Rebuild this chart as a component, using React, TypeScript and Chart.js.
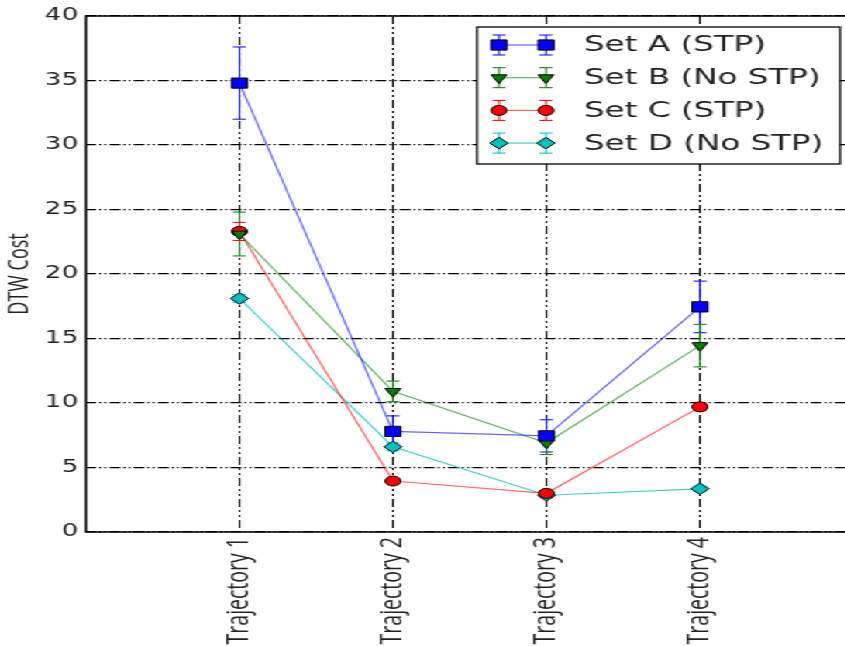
import React, { useEffect, useRef } from 'react';
import { Chart, registerables } from 'chart.js';

Chart.register(...registerables);

const categories = ['Trajectory 1', 'Trajectory 2', 'Trajectory 3', 'Trajectory 4'];
const seriesNames = ['Set A (STP)', 'Set B (No STP)', 'Set C (STP)', 'Set D (No STP)'];
const setA = [34.8, 7.8, 7.45, 17.45];
const setAErr = [2.8, 1.2, 1.25, 2.0];
const setB = [23.1, 10.9, 6.9, 14.45];
const setBErr = [1.7, 0.8, 0.9, 1.65];
const setC = [23.3, 3.95, 3.0, 9.7];
const setCErr = [0.7, 0.2, 0.2, 0.3];
const setD = [18.1, 6.6, 2.85, 3.35];
const setDErr = [0.3, 0.3, 0.2, 0.2];
const yTicks = [0, 5, 10, 15, 20, 25, 30, 35, 40];
const xMin = 0;
const xMax = 5;

const S = 1.55; // horizontal stretch of the reference picture
const W = 560;
const H = 646;

const colors = ['#0000ff', '#008000', '#ff0000', '#00bfbf'];
const lineColors = ['rgba(0,0,255,0.6)', 'rgba(0,128,0,0.6)', 'rgba(255,0,0,0.6)', 'rgba(0,191,191,0.75)'];
const markers = [
  { style: 'rect', radius: 7.2, rotation: 0 },
  { style: 'triangle', radius: 5.8, rotation: 180 },
  { style: 'circle', radius: 5, rotation: 0 },
  { style: 'rectRot', radius: 5.8, rotation: 0 },
];
const values = [setA, setB, setC, setD];
const errors = [setAErr, setBErr, setCErr, setDErr];

function drawMarker(ctx: CanvasRenderingContext2D, i: number, x: number, y: number) {
  const m = markers[i];
  const r = m.radius;
  ctx.save();
  ctx.fillStyle = colors[i];
  ctx.strokeStyle = '#000';
  ctx.lineWidth = 1;
  ctx.beginPath();
  if (m.style === 'rect') {
    const s = Math.SQRT1_2 * r;
    ctx.rect(x - s, y - s, 2 * s, 2 * s);
  } else if (m.style === 'triangle') {
    for (let k = 0; k < 3; k++) {
      const a = Math.PI + (k * 2 * Math.PI) / 3;
      const px = x + Math.sin(a) * r;
      const py = y - Math.cos(a) * r;
      if (k === 0) ctx.moveTo(px, py);
      else ctx.lineTo(px, py);
    }
    ctx.closePath();
  } else if (m.style === 'circle') {
    ctx.arc(x, y, r, 0, Math.PI * 2);
  } else {
    ctx.moveTo(x, y - r);
    ctx.lineTo(x + r, y);
    ctx.lineTo(x, y + r);
    ctx.lineTo(x - r, y);
    ctx.closePath();
  }
  ctx.fill();
  ctx.stroke();
  ctx.restore();
}

function drawErrorBar(ctx: CanvasRenderingContext2D, color: string, x: number, y1: number, y2: number, cap: number) {
  ctx.save();
  ctx.strokeStyle = color;
  ctx.lineWidth = 1;
  ctx.beginPath();
  ctx.moveTo(x, y1);
  ctx.lineTo(x, y2);
  ctx.moveTo(x - cap, y1);
  ctx.lineTo(x + cap, y1);
  ctx.moveTo(x - cap, y2);
  ctx.lineTo(x + cap, y2);
  ctx.stroke();
  ctx.restore();
}

const framePlugin = {
  id: 'frame',
  beforeDatasetsDraw(chart: any) {
    const { ctx, chartArea: a } = chart;
    ctx.save();
    ctx.strokeStyle = '#000';
    ctx.lineWidth = 1.5;
    ctx.strokeRect(a.left, a.top, a.right - a.left, a.bottom - a.top);
    ctx.restore();
  },
};

const errorBarPlugin = {
  id: 'errorBars',
  beforeDatasetsDraw(chart: any) {
    const { ctx } = chart;
    const yScale = chart.scales.y;
    chart.data.datasets.forEach((ds: any, i: number) => {
      const meta = chart.getDatasetMeta(i);
      meta.data.forEach((pt: any, j: number) => {
        const v = values[i][j];
        const e = errors[i][j];
        drawErrorBar(ctx, colors[i], pt.x, yScale.getPixelForValue(v + e), yScale.getPixelForValue(v - e), 4.2);
      });
    });
  },
};

const legendPlugin = {
  id: 'mplLegend',
  afterDraw(chart: any) {
    const { ctx } = chart;
    const left = 477 / S;
    const right = 840 / S;
    const top = 27;
    const bottom = 164;
    ctx.save();
    ctx.fillStyle = '#fff';
    ctx.fillRect(left, top, right - left, bottom - top);
    ctx.strokeStyle = '#000';
    ctx.lineWidth = 1.3;
    ctx.strokeRect(left, top, right - left, bottom - top);
    const x1 = 499 / S;
    const x2 = 546 / S;
    seriesNames.forEach((name, i) => {
      const y = 45 + i * 32.7;
      ctx.strokeStyle = lineColors[i];
      ctx.lineWidth = 1.2;
      ctx.beginPath();
      ctx.moveTo(x1, y);
      ctx.lineTo(x2, y);
      ctx.stroke();
      drawErrorBar(ctx, colors[i], x1, y - 10, y + 10, 4.2);
      drawErrorBar(ctx, colors[i], x2, y - 10, y + 10, 4.2);
      drawMarker(ctx, i, x1, y);
      drawMarker(ctx, i, x2, y);
      ctx.fillStyle = '#222';
      ctx.font = '21px "DejaVu Sans"';
      ctx.textAlign = 'left';
      ctx.textBaseline = 'middle';
      ctx.fillText(name, 584 / S, y + 1);
    });
    ctx.restore();
  },
};

const yTitlePlugin = {
  id: 'yTitle',
  afterDraw(chart: any) {
    const { ctx, chartArea: a } = chart;
    ctx.save();
    ctx.translate(20 / S, (a.top + a.bottom) / 2);
    ctx.rotate(-Math.PI / 2);
    ctx.fillStyle = '#222';
    ctx.font = '18px "Open Sans"';
    ctx.textAlign = 'center';
    ctx.textBaseline = 'middle';
    ctx.fillText('DTW Cost', 0, 0);
    ctx.restore();
  },
};

export default function App() {
  const ref = useRef<HTMLCanvasElement | null>(null);
  useEffect(() => {
    if (!ref.current) return;
    const chart = new Chart(ref.current, {
      type: 'line',
      data: {
        datasets: seriesNames.map((name, i) => ({
          label: name,
          data: values[i].map((v, j) => ({ x: j + 1, y: v })),
          borderColor: lineColors[i],
          borderWidth: 1.2,
          backgroundColor: colors[i],
          pointStyle: markers[i].style as any,
          pointRadius: markers[i].radius,
          pointRotation: markers[i].rotation,
          pointBackgroundColor: colors[i],
          pointBorderColor: '#000',
          pointBorderWidth: 1,
          fill: false,
          tension: 0,
        })),
      },
      options: {
        responsive: false,
        animation: false,
        layout: { padding: { left: 0, top: 16, right: W - 853.5 / S, bottom: 0 } },
        plugins: { legend: { display: false }, tooltip: { enabled: false } },
        scales: {
          x: {
            type: 'linear',
            min: xMin,
            max: xMax,
            afterBuildTicks: (axis: any) => {
              axis.ticks = categories.map((_, i) => ({ value: i + 1 }));
            },
            afterFit: (axis: any) => {
              axis.height = H - 532;
            },
            ticks: {
              autoSkip: false,
              minRotation: 90,
              maxRotation: 90,
              padding: 5,
              color: '#222',
              font: { family: 'Open Sans', size: 19.5 },
              callback: (v: any) => categories[Number(v) - 1] ?? '',
            },
            grid: { color: '#000', lineWidth: 1.1, drawTicks: false },
            border: { display: false, dash: [8, 3, 2, 3, 2, 3] },
          },
          y: {
            type: 'linear',
            min: 0,
            max: 40,
            afterBuildTicks: (axis: any) => {
              axis.ticks = yTicks.map((v) => ({ value: v }));
            },
            afterFit: (axis: any) => {
              axis.width = 86 / S;
            },
            ticks: {
              padding: 5,
              color: '#222',
              font: { family: 'DejaVu Sans', size: 17 },
            },
            grid: { color: '#000', lineWidth: 1.3, drawTicks: false },
            border: { display: false, dash: [7, 2, 1.3, 2, 1.3, 2] },
          },
        },
      },
      plugins: [framePlugin, errorBarPlugin, legendPlugin, yTitlePlugin],
    });
    return () => chart.destroy();
  }, []);
  return (
    <div
      style={{
        position: 'fixed',
        left: 0,
        top: 0,
        width: W,
        height: H,
        transform: `scaleX(${S})`,
        transformOrigin: '0 0',
        background: '#fff',
      }}
    >
      <canvas ref={ref} width={W} height={H} style={{ display: 'block' }} />
    </div>
  );
}
